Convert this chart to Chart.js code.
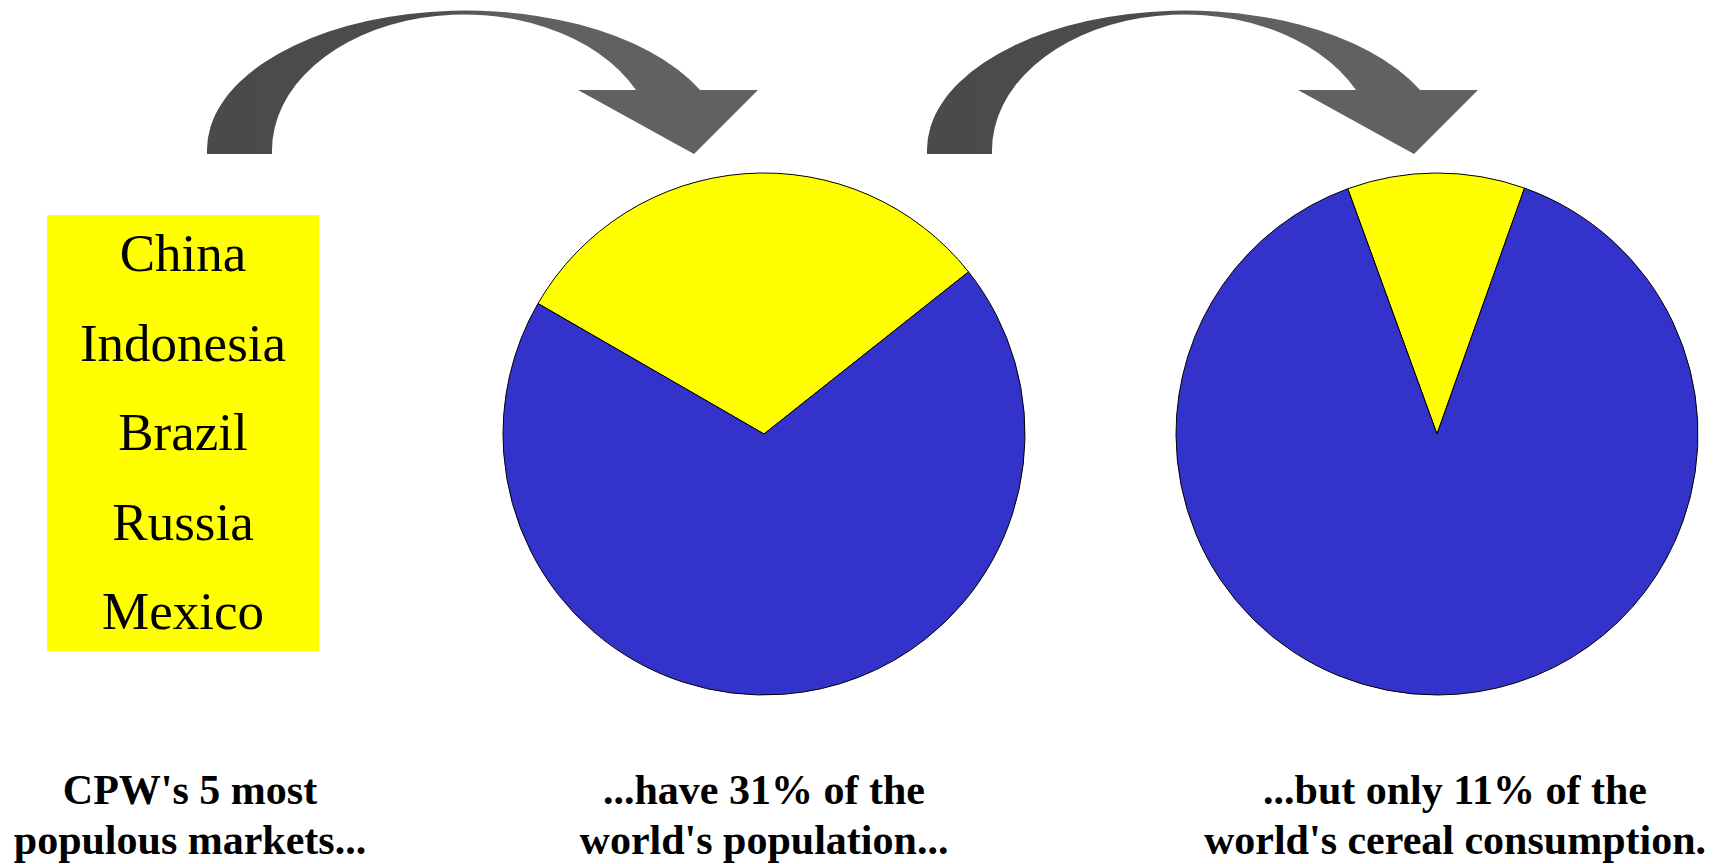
<!DOCTYPE html>
<html>
<head>
<meta charset="utf-8">
<script src="https://cdn.jsdelivr.net/npm/chart.js@4"></script>
<style>
  html, body { margin: 0; padding: 0; background: #fff; }
  #page { position: relative; width: 1721px; height: 864px; overflow: hidden;
          font-family: "Liberation Serif", "Times New Roman", serif; }
  #arrows { position: absolute; left: 0; top: 0; }
  #markets { position: absolute; left: 47px; top: 215px; width: 272px; height: 436px; background: #ffff00; }
  #marketList { position: absolute; left: 0; top: -6px; width: 100%; text-align: center;
                font-size: 53px; line-height: 89.5px; color: #000; }
  .pie { position: absolute; width: 560px; height: 560px; }
  .caption { position: absolute; width: 600px; text-align: center; font-weight: bold;
             font-size: 42px; line-height: 50px; color: #000; white-space: nowrap; }
</style>
</head>
<body>
<div id="page">
  <svg id="arrows" width="1721" height="864"></svg>
  <div id="markets"><div id="marketList"></div></div>
  <div class="pie" style="left:484px; top:154px;"><canvas id="popChart"></canvas></div>
  <div class="pie" style="left:1157px; top:154px;"><canvas id="cerealChart"></canvas></div>
  <div class="caption" id="cap1" style="left:-110px; top:765px;"></div>
  <div class="caption" id="cap2" style="left:464px; top:765px;"></div>
  <div class="caption" id="cap3" style="left:1155px; top:765px;"></div>
</div>
<script>
// data
const markets = ["China", "Indonesia", "Brazil", "Russia", "Mexico"];
const sliceLabels = ["CPW's 5 most populous markets", "Rest of the world"];
const populationShare = [31, 69];
const cerealShare = [11, 89];
const captions = [
  ["CPW's 5 most", "populous markets..."],
  ["...have 31% of the", "world's population..."],
  ["...but only 11% of the", "world's cereal consumption."]
];

document.getElementById('marketList').innerHTML = markets.map(m => `<div>${m}</div>`).join('');
captions.forEach((c, i) => {
  document.getElementById('cap' + (i + 1)).innerHTML = c.join('<br>');
});

// curved arrows (decoration)
function arrowPath(dx) {
  const x = v => v + dx;
  return `M ${x(207)} 154 L ${x(207)} 150 A 259 139 0 0 1 ${x(700)} 90 L ${x(758)} 90 L ${x(694)} 154 L ${x(578)} 90 L ${x(636)} 90 A 192 136 0 0 0 ${x(272)} 150 L ${x(272)} 154 Z`;
}
const svg = document.getElementById('arrows');
svg.innerHTML = `
  <defs>
    <linearGradient id="g1" gradientUnits="userSpaceOnUse" x1="207" y1="0" x2="758" y2="0">
      <stop offset="0" stop-color="#4a4a4a"/><stop offset="0.4" stop-color="#4d4d4d"/>
      <stop offset="0.55" stop-color="#606060"/><stop offset="1" stop-color="#626262"/>
    </linearGradient>
    <linearGradient id="g2" gradientUnits="userSpaceOnUse" x1="927" y1="0" x2="1478" y2="0">
      <stop offset="0" stop-color="#4a4a4a"/><stop offset="0.4" stop-color="#4d4d4d"/>
      <stop offset="0.55" stop-color="#606060"/><stop offset="1" stop-color="#626262"/>
    </linearGradient>
  </defs>
  <path d="${arrowPath(0)}" fill="url(#g1)"/>
  <path d="${arrowPath(720)}" fill="url(#g2)"/>`;

function makePie(id, values, rotation) {
  const ctx = document.getElementById(id).getContext('2d');
  new Chart(ctx, {
    type: 'pie',
    data: {
      labels: sliceLabels,
      datasets: [{
        data: values,
        backgroundColor: ['#ffff00', '#3333cc'],
        borderColor: '#000000',
        borderWidth: 1,
        radius: 261
      }]
    },
    options: {
      responsive: true,
      maintainAspectRatio: false,
      animation: false,
      rotation: rotation,
      layout: { padding: 0 },
      plugins: { legend: { display: false }, tooltip: { enabled: false } }
    }
  });
}
makePie('popChart', populationShare, -60);
makePie('cerealChart', cerealShare, -20);
</script>
</body>
</html>
